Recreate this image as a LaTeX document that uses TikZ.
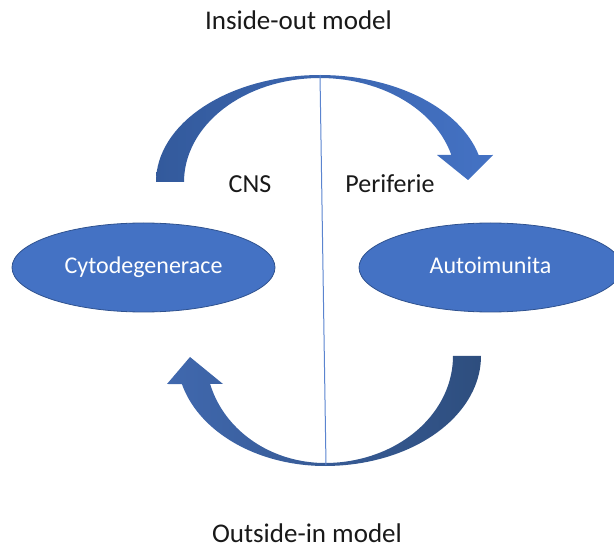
\documentclass[tikz,border=0pt]{standalone}
\usepackage{fontspec}
\setmainfont{Carlito}
\usetikzlibrary{shapes.geometric}
\definecolor{officeblue}{HTML}{4472C4}
\definecolor{officeedge}{HTML}{2F528F}
\definecolor{topdark}{HTML}{335A9C}
\definecolor{botdark}{HTML}{2E4E7E}
\definecolor{botlight}{HTML}{4068AE}
\definecolor{divider}{HTML}{5B84CF}
\begin{document}
\begin{tikzpicture}[x=1pt,y=-1pt,
  blob/.style={ellipse, draw=officeedge, line width=0.8pt, fill=officeblue,
    minimum width=263pt, minimum height=89pt, inner sep=0pt, text=white,
    font=\fontsize{24}{28}\selectfont, text height=13pt, text depth=0pt},
  caption/.style={anchor=base, inner sep=0pt, font=\fontsize{27}{30}\selectfont, text=black!90},
  side/.style={anchor=base, inner sep=0pt, font=\fontsize{26}{30}\selectfont, text=black!90}]
\useasboundingbox (0,0) rectangle (614,548);
\clip (0,0) rectangle (614,548);

% upper curved arrow: CNS -> periphery
\shade[left color=topdark, right color=officeblue]
  plot[domain=180:345.4, samples=60, variable=\t] ({320+164*cos(\t)}, {182+107*sin(\t)})
  -- (493,155) -- (468,180) -- (437,155)
  -- plot[domain=344.9:180, samples=60, variable=\t] ({320+136*cos(\t)}, {182+104*sin(\t)})
  -- cycle;

% lower curved arrow: periphery -> CNS
\shade[left color=botlight, right color=botdark]
  plot[domain=0:90, samples=40, variable=\t] ({325+156*cos(\t)}, {356+110*sin(\t)})
  -- plot[domain=90:165.25, samples=40, variable=\t] ({325+148*cos(\t)}, {356+110*sin(\t)})
  -- (167,384) -- (190,357) -- (223,384)
  -- plot[domain=164.83:90, samples=40, variable=\t] ({325+119*cos(\t)}, {356+107*sin(\t)})
  -- plot[domain=90:0, samples=40, variable=\t] ({325+128*cos(\t)}, {356+107*sin(\t)})
  -- cycle;

% dividing line between CNS and periphery
\coordinate (divtop) at (320,75);
\coordinate (divbot) at (326,465);
\draw[divider, line width=1pt] (divtop) -- (divbot);

% the two states
\node[blob] (cyto) at (143.5,267.5) {Cytodegenerace};
\node[blob] (auto) at (490.5,267.5) {Autoimunita};

% labels
\node[caption] (io) at (298.5,30) {Inside-out model};
\node[caption] (oi) at (307,542) {Outside-in model};
\node[side] (cns) at (250,193) {CNS};
\node[side] (per) at (390,193) {Periferie};
\end{tikzpicture}
\end{document}
